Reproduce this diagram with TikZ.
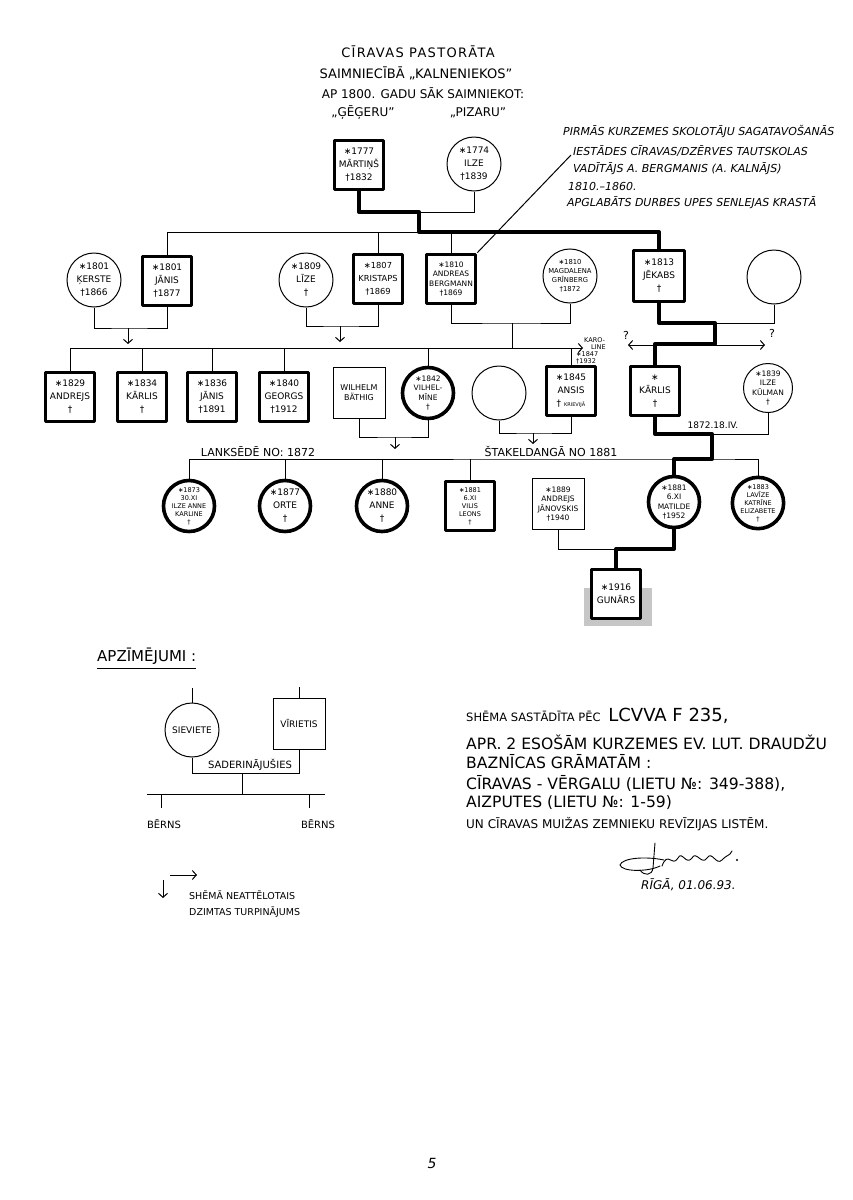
\documentclass[tikz,border=0pt]{standalone}
\usepackage{fontspec}
\setmainfont{DejaVu Sans}
\usetikzlibrary{arrows.meta, positioning}

\newcommand{\namefont}{\fontsize{9}{13}\selectfont}
\newcommand{\fourfont}{\fontsize{7.5}{9.5}\selectfont}
\newcommand{\fivefont}{\fontsize{6.5}{8}\selectfont}

\tikzset{
  man/.style={draw, line width=3.6pt, line join=round, fill=white, minimum width=49pt, minimum height=49pt, inner sep=1pt, align=center, font=\namefont},
  manthin/.style={draw, line width=1pt, fill=white, minimum width=52pt, minimum height=51pt, inner sep=1pt, align=center, font=\namefont},
  woman/.style={draw, circle, line width=1pt, fill=white, minimum size=54pt, inner sep=0pt, align=center, font=\namefont},
  womanthick/.style={woman, line width=3.6pt, minimum size=51pt},
  blood/.style={line width=4pt, line join=round, line cap=round},
  link/.style={line width=1pt},
  kid/.tip={Straight Barb[length=4pt, width=9pt, line width=1pt]},
  hand/.style={inner sep=0pt, font=\fontsize{12}{14}\selectfont},
  note/.style={inner sep=0pt, anchor=west, font=\fontsize{11}{13}\selectfont\itshape},
  src/.style={inner sep=0pt, anchor=west, font=\fontsize{15.6}{17}\selectfont},
  small/.style={inner sep=0pt, font=\fontsize{10}{12}\selectfont},
  tiny/.style={inner sep=0pt, anchor=west, font=\fontsize{6.5}{7}\selectfont},
}

\begin{document}
\begin{tikzpicture}[x=1pt, y=-1pt]
  \useasboundingbox (0,0) rectangle (852,1200);
  \fill[white] (0,0) rectangle (852,1200);

  % Title
  \node[hand, font=\fontsize{13}{15}\selectfont\addfontfeature{LetterSpace=10}] (title1) at (418,52) {CĪRAVAS PASTORĀTA};
  \node[hand, font=\fontsize{13}{15}\selectfont] (title2) at (416,73) {SAIMNIECĪBĀ „KALNENIEKOS”};
  \node[hand] (title3) at (423,93) {AP 1800. GADU SĀK SAIMNIEKOT:};
  \node[hand] (farm1) at (363,113) {„ĢĒĢERU”};
  \node[hand] (farm2) at (478,113) {„PIZARU”};

  % Generation 1
  \node[man] (martins) at (359,165) {∗1777\\MĀRTIŅŠ\\†1832};
  \node[woman] (ilze) at (474,164) {∗1774\\ILZE\\†1839};
  \coordinate (c0) at (419,212);
  \coordinate (c1) at (419,232);

  % Generation 2
  \node[woman] (kerste) at (94,280) {∗1801\\ĶERSTE\\†1866};
  \node[man] (janis) at (167,281) {∗1801\\JĀNIS\\†1877};
  \node[woman] (lize) at (306,280) {∗1809\\LĪZE\\†};
  \node[man, font=\fontsize{8.3}{13}\selectfont] (kristaps) at (378,279) {∗1807\\KRISTAPS\\†1869};
  \node[man, font=\fourfont] (andreas) at (451,279) {∗1810\\ANDREAS\\BERGMANN\\†1869};
  \node[woman, font=\fontsize{6.8}{9}\selectfont] (magdalena) at (570,276) {∗1810\\MAGDALENA\\GRĪNBERG\\†1872};
  \node[man, minimum width=51pt, minimum height=51pt] (jekabs) at (659,276) {∗1813\\JĒKABS\\†};
  \node[woman] (jekabswife) at (774,277) {};

  \draw[link] (ilze.south) |- (c0);
  \draw[link] (janis.north) |- (c1);
  \draw[link] (kristaps.north) -- (kristaps.north |- c1);
  \draw[link] (andreas.north) -- (andreas.north |- c1);
  \draw[blood] (martins.south) |- (c0) -- (c1) -| (jekabs.north);

  % Note on Andreas Bergmann
  \node[note] (note1) at (563,131) {PIRMĀS KURZEMES SKOLOTĀJU SAGATAVOŠANĀS};
  \node[note] (note2) at (573,151) {IESTĀDES CĪRAVAS/DZĒRVES TAUTSKOLAS};
  \node[note] (note3) at (573,169) {VADĪTĀJS A. BERGMANIS (A. KALNĀJS)};
  \node[note] (note4) at (568,186) {1810.–1860.};
  \node[note] (note5) at (567,203) {APGLABĀTS DURBES UPES SENLEJAS KRASTĀ};
  \coordinate (notetip) at (571,155);
  \draw[link] (andreas.north east) -- (notetip);

  % Generation 3
  \node[man] (andrejs) at (70,397) {∗1829\\ANDREJS\\†};
  \node[man] (karlis1) at (142,397) {∗1834\\KĀRLIS\\†};
  \node[man] (janis1) at (212,397) {∗1836\\JĀNIS\\†1891};
  \node[man] (georgs) at (284,397) {∗1840\\GEORGS\\†1912};
  \node[manthin, font=\fontsize{8}{10}\selectfont] (wilhelm) at (359,393) {WILHELM\\BÄTHIG};
  \node[womanthick, font=\fourfont] (vilhelmine) at (428,393) {∗1842\\VILHEL-\\MĪNE\\†};
  \node[woman] (ansiswife) at (499,393) {};
  \node[man] (ansis) at (571,391) {∗1845\\ANSIS\\† {\fontsize{5}{6}\selectfont KRIEVIJĀ}};
  \node[man] (karlis) at (655,391) {∗\\KĀRLIS\\†};
  \node[woman, minimum size=49pt, font=\fourfont] (kulman) at (768,388) {∗1839\\ILZE\\KŪLMAN\\†};

  % couples of generation 2
  \coordinate (kj) at (128,328);
  \draw[link] (kerste.south) |- (kj) -| (janis.south);
  \draw[link, -{kid}] (kj) -- ++(0,16);
  \coordinate (lk) at (340,326);
  \draw[link] (lize.south) |- (lk) -| (kristaps.south);
  \draw[link, -{kid}] (lk) -- ++(0,16);
  \coordinate (am) at (512,323);
  \coordinate (amkids) at (512,348);
  \coordinate (karoline) at (583,348);
  \draw[link] (andreas.south) |- (am) -| (magdalena.south);
  \draw[link] (am) -- (amkids);
  \draw[link, -{kid}] (andrejs.north) |- (karoline);
  \draw[link] (karlis1.north) -- (karlis1.north |- amkids);
  \draw[link] (janis1.north) -- (janis1.north |- amkids);
  \draw[link] (georgs.north) -- (georgs.north |- amkids);
  \draw[link] (vilhelmine.north) -- (vilhelmine.north |- amkids);
  \draw[link] (ansis.north) -- (ansis.north |- amkids);
  \node[tiny] (karo1) at (584,340) {KARO-};
  \node[tiny] (karo2) at (591,347) {LINE};
  \node[tiny, align=left] (karo3) at (576,358) {∗1847\\†1932};

  % Jēkabs and wife
  \coordinate (jw) at (715,323);
  \coordinate (jk) at (715,344);
  \coordinate (qleft) at (628,345);
  \coordinate (qright) at (765,345);
  \draw[link, {kid}-{kid}] (qleft) -- (qright);
  \node[small, font=\fontsize{11}{12}\selectfont] (q1) at (626,335) {?};
  \node[small, font=\fontsize{11}{12}\selectfont] (q2) at (772,333) {?};
  \draw[link] (jekabswife.south) |- (jw);
  \draw[blood] (jekabs.south) |- (jw) -- (jk) -| (karlis.north);

  % Generation 4
  \node[womanthick, font=\fivefont] (ilzeanne) at (189,506) {∗1873\\30.XI\\ILZE ANNE\\KARLINE\\†};
  \node[womanthick] (orte) at (285,506) {∗1877\\ORTE\\†};
  \node[womanthick] (anne) at (382,506) {∗1880\\ANNE\\†};
  \node[man, font=\fivefont] (vilis) at (470,506) {∗1881\\6.XI\\VILIS\\LEONS\\†};
  \node[manthin, font=\fourfont] (janovskis) at (558,504) {∗1889\\ANDREJS\\JĀNOVSKIS\\†1940};
  \node[womanthick, font=\fourfont] (matilde) at (674,502) {∗1881\\6.XI\\MATILDE\\†1952};
  \node[womanthick, font=\fivefont] (lavize) at (758,503) {∗1883\\LAVĪZE\\KATRĪNE\\ELIZABETE\\†};

  % couples of generation 3
  \coordinate (wv) at (395,437);
  \draw[link] (wilhelm.south) |- (wv) -| (vilhelmine.south);
  \draw[link, -{kid}] (wv) -- ++(0,12);
  \coordinate (aw) at (533,433);
  \draw[link] (ansiswife.south) |- (aw) -| (ansis.south);
  \draw[link, -{kid}] (aw) -- ++(0,11);
  \coordinate (ki) at (712,434);
  \coordinate (kikids) at (712,459);
  \draw[link] (kulman.south) |- (ki);
  \draw[link] (ilzeanne.north) |- (kikids) -| (lavize.north);
  \draw[link] (orte.north) -- (orte.north |- kikids);
  \draw[link] (anne.north) -- (anne.north |- kikids);
  \draw[link] (vilis.north) -- (vilis.north |- kikids);
  \draw[blood] (karlis.south) |- (ki) -- (kikids) -| (matilde.north);
  \node[small, font=\fontsize{9}{10}\selectfont] (wedding) at (713,425) {1872.18.IV.};
  \node[small, font=\fontsize{11}{12}\selectfont] (lanksede) at (258,452) {LANKSĒDĒ NO: 1872};
  \node[small, font=\fontsize{11}{12}\selectfont] (stakel) at (551,451) {ŠTAKELDANGĀ NO 1881};

  % Generation 5
  \fill[gray!45] (584,588) rectangle (652,626);
  \node[man] (gunars) at (616,594) {∗1916\\GUNĀRS};
  \coordinate (jm) at (616,549);
  \draw[link] (janovskis.south) |- (jm);
  \draw[blood] (matilde.south) |- (jm) -- (gunars.north);

  % Legend
  \node[hand, anchor=west, font=\fontsize{15}{17}\selectfont] (legend) at (97,656) {APZĪMĒJUMI :};
  \draw[link] ([yshift=-4pt]legend.south west) -- ([yshift=-4pt]legend.south east);
  \node[woman] (sieviete) at (192,730) {SIEVIETE};
  \node[manthin] (virietis) at (299,724) {VĪRIETIS};
  \coordinate (s0) at (192,688);
  \coordinate (v0) at (299,687);
  \draw[link] (sieviete.north) -- (s0);
  \draw[link] (virietis.north) -- (v0);
  \coordinate (sd) at (242,773);
  \coordinate (bl) at (147,794);
  \coordinate (br) at (325,794);
  \draw[link] (sieviete.south) |- (sd) -| (virietis.south);
  \draw[link] (sd) -- (sd |- bl);
  \draw[link] (bl) -- (br);
  \node[small] (saderin) at (250,765) {SADERINĀJUŠIES};
  \node[small] (berns1) at (164,824) {BĒRNS};
  \node[small] (berns2) at (318,824) {BĒRNS};
  \coordinate (b1) at (161,808);
  \coordinate (b2) at (309,808);
  \draw[link] (b1 |- bl) -- (b1);
  \draw[link] (b2 |- bl) -- (b2);
  \coordinate (la) at (163,880);
  \coordinate (lr) at (170,875);
  \draw[link, -{kid}] (la) -- ++(0,18);
  \draw[link, -{kid}] (lr) -- ++(27,0);
  \node[small, anchor=west, align=left, font=\fontsize{9.5}{16}\selectfont] (cont) at (189,904) {SHĒMĀ NEATTĒLOTAIS\\DZIMTAS TURPINĀJUMS};

  % Sources
  \node[src] (src1) at (466,716) {{\fontsize{11.5}{13}\selectfont SHĒMA SASTĀDĪTA PĒC}\enspace{\fontsize{18}{19}\selectfont LCVVA F 235,}};
  \node[src] (src2) at (466,742) {APR. 2 ESOŠĀM KURZEMES EV. LUT. DRAUDŽU};
  \node[src] (src3) at (466,762) {BAZNĪCAS GRĀMATĀM :};
  \node[src] (src4) at (466,783) {CĪRAVAS - VĒRGALU (LIETU №: 349-388),};
  \node[src] (src5) at (466,803) {AIZPUTES (LIETU №: 1-59)};
  \node[src, font=\fontsize{12}{14}\selectfont] (src6) at (466,824) {UN CĪRAVAS MUIŽAS ZEMNIEKU REVĪZIJAS LISTĒM.};

  % Signature
  \draw[line width=0.9pt, line cap=round] (664,860) .. controls (645,856) and (622,858) .. (620,865) .. controls (622,872) and (648,872) .. (660,866);
  \draw[line width=0.9pt, line cap=round] (655,843) -- (653,868) .. controls (652,876) and (644,876) .. (640,870);
  \draw[line width=0.9pt, line cap=round] (662,866) .. controls (668,850) and (672,868) .. (678,858) .. controls (682,850) and (686,866) .. (692,858) .. controls (696,850) and (702,866) .. (707,858) .. controls (712,850) and (716,866) .. (722,860) .. controls (726,855) and (730,856) .. (732,851);
  \fill (737,860) circle (1.2pt);
  \node[src, font=\fontsize{12}{14}\selectfont\itshape] (place) at (641,885) {RĪGĀ, 01.06.93.};

  % Page number
  \node[hand, font=\fontsize{14}{16}\selectfont\itshape] (page) at (432,1163) {5};
\end{tikzpicture}
\end{document}
